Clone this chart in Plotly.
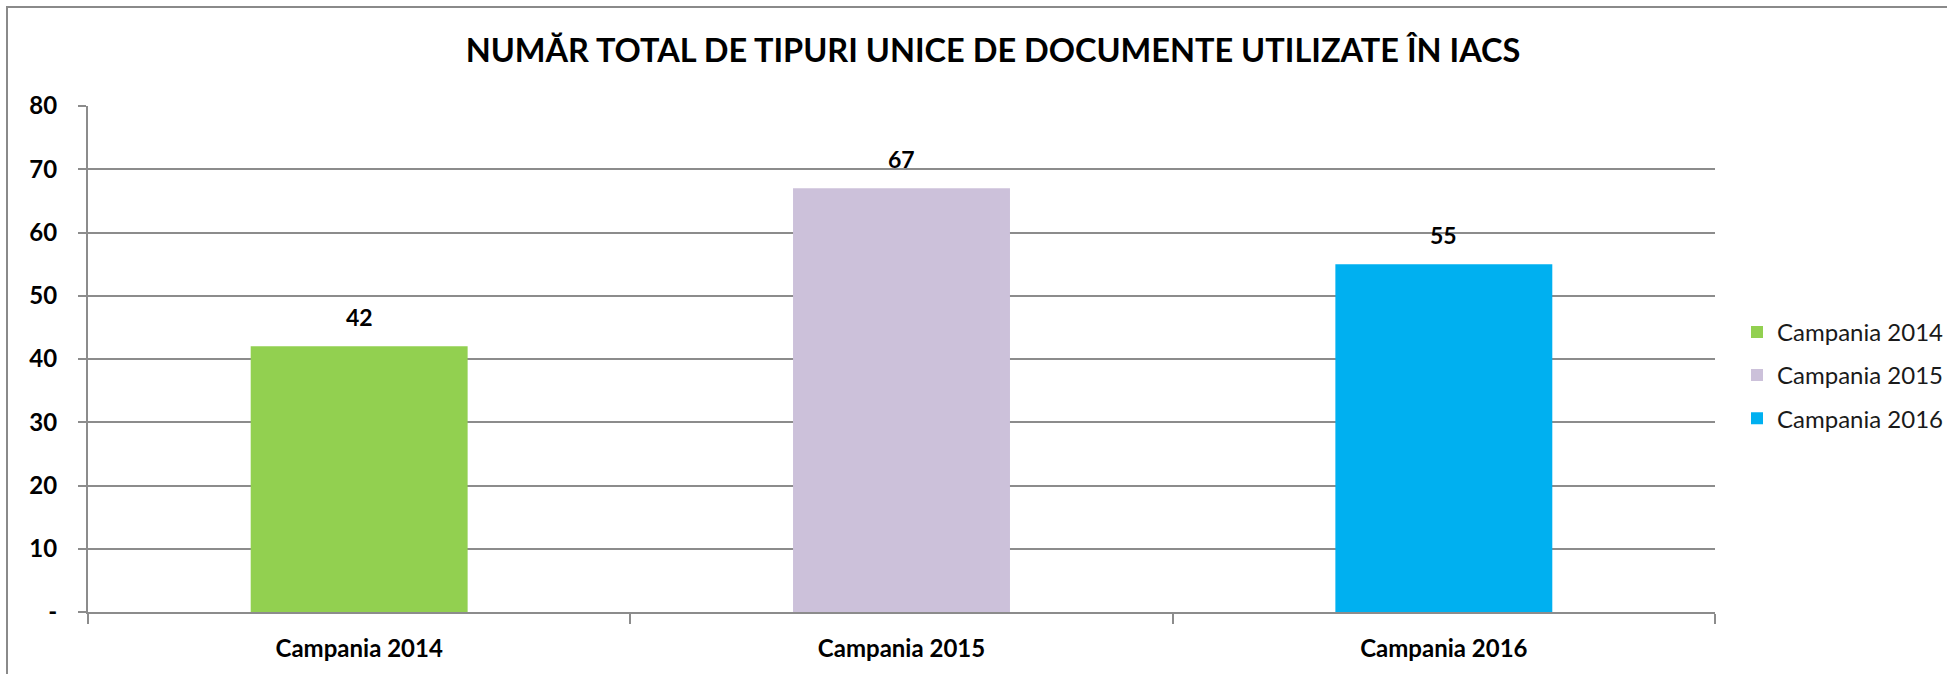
import plotly.graph_objects as go

categories = ["Campania 2014", "Campania 2015", "Campania 2016"]
values = [42, 67, 55]
colors = ["#92D050", "#CCC1DA", "#00B0F0"]
y_tickvals = [0, 10, 20, 30, 40, 50, 60, 70, 80]
y_ticktext = ["-", "10", "20", "30", "40", "50", "60", "70", "80"]
title_text = "NUMĂR TOTAL DE TIPURI UNICE DE DOCUMENTE UTILIZATE ÎN IACS"

W, H = 1947, 674
L, R, T, B = 88, 1715, 106, 612.5
pw, ph = R - L, B - T

FONT = "Lato"
GRID = "#8c8c8c"

fig = go.Figure()
for cat, val, col in zip(categories, values, colors):
    fig.add_trace(go.Bar(
        x=[cat], y=[val], name=cat, marker_color=col, marker_line_width=0,
        width=0.4, legendgroup=cat,
    ))
    fig.add_annotation(
        x=cat, y=val, text=str(val), showarrow=False, yanchor="bottom",
        yshift=13, font=dict(family=FONT, size=23, color="#000000", weight="bold"),
    )

def px_x(p):
    return (p - L) / pw

def px_y(p):
    return (B - p) / ph

fig.add_shape(type="rect", xref="paper", yref="paper",
              x0=px_x(7), y0=px_y(720), x1=px_x(2000), y1=px_y(7),
              line=dict(color="#8a8a8a", width=2), fillcolor="rgba(0,0,0,0)", layer="below")

fig.update_layout(
    width=W, height=H,
    margin=dict(l=L, r=W - R, t=T, b=H - B, pad=0, autoexpand=False),
    paper_bgcolor="white", plot_bgcolor="white",
    barmode="overlay",
    title=dict(text=title_text, x=px_x(993), xref="paper", xanchor="center",
               y=1 - 51 / H, yanchor="middle", automargin=False,
               font=dict(family=FONT, size=32.5, color="#000000", weight="bold")),
    legend=dict(x=px_x(1737), xanchor="left", y=px_y(310), yanchor="top",
                font=dict(family=FONT, size=24, color="#1a1a1a"),
                traceorder="grouped", tracegroupgap=9, itemwidth=30,
                bgcolor="rgba(0,0,0,0)"),
    showlegend=True,
)

fig.update_xaxes(
    type="category", categoryorder="array", categoryarray=categories,
    showline=True, linecolor=GRID, linewidth=2,
    ticks="outside", tickson="boundaries", ticklen=10, tickcolor=GRID, tickwidth=2,
    tickfont=dict(family=FONT, size=24, color="#000000", weight="bold"),
    showgrid=False, ticklabelstandoff=14, automargin=False,
)
fig.update_yaxes(
    range=[0, 80], tickvals=y_tickvals, ticktext=y_ticktext,
    showline=True, linecolor=GRID, linewidth=2,
    ticks="outside", ticklen=8, tickcolor=GRID, tickwidth=2,
    showgrid=True, gridcolor=GRID, gridwidth=2, zeroline=False,
    tickfont=dict(family=FONT, size=24, color="#000000", weight="bold"),
    ticklabelstandoff=16, automargin=False,
)

fig.write_html(
    "out.html",
    config={"displayModeBar": False},
    post_script="document.body.style.margin='0';document.body.style.overflow='hidden';",
)
